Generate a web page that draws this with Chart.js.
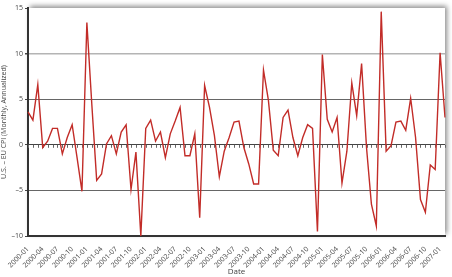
<!DOCTYPE html>
<html>
<head>
<meta charset="utf-8">
<script src="https://cdn.jsdelivr.net/npm/chart.js@4.4.0/dist/chart.umd.min.js"></script>
<style>
  html, body { margin: 0; padding: 0; background: #fff; }
  #wrap { width: 452px; height: 277px; }
</style>
</head>
<body>
<div id="wrap"><canvas id="chart"></canvas></div>
<script>
let months = [
    '2000-01','2000-02','2000-03','2000-04','2000-05','2000-06','2000-07','2000-08','2000-09','2000-10','2000-11','2000-12',
    '2001-01','2001-02','2001-03','2001-04','2001-05','2001-06','2001-07','2001-08','2001-09','2001-10','2001-11','2001-12',
    '2002-01','2002-02','2002-03','2002-04','2002-05','2002-06','2002-07','2002-08','2002-09','2002-10','2002-11','2002-12',
    '2003-01','2003-02','2003-03','2003-04','2003-05','2003-06','2003-07','2003-08','2003-09','2003-10','2003-11','2003-12',
    '2004-01','2004-02','2004-03','2004-04','2004-05','2004-06','2004-07','2004-08','2004-09','2004-10','2004-11','2004-12',
    '2005-01','2005-02','2005-03','2005-04','2005-05','2005-06','2005-07','2005-08','2005-09','2005-10','2005-11','2005-12',
    '2006-01','2006-02','2006-03','2006-04','2006-05','2006-06','2006-07','2006-08','2006-09','2006-10','2006-11','2006-12',
    '2007-01','2007-02'
];

// US - EU CPI difference, monthly, annualized
let cpiDiff = [
    3.6, 2.7, 6.6, -0.3, 0.4, 1.8, 1.8, -1.0, 0.8, 2.2, -1.4, -5.1,
    13.4, 4.5, -3.9, -3.2, 0.1, 1.0, -1.0, 1.4, 2.2, -4.9, -0.8, -10.0,
    1.8, 2.7, 0.4, 1.4, -1.4, 1.2, 2.6, 4.1, -1.2, -1.2, 1.2, -8.0,
    6.5, 4.1, 1.0, -3.5, -0.7, 0.8, 2.5, 2.6, -0.3, -2.1, -4.3, -4.3,
    8.2, 4.9, -0.6, -1.2, 3.0, 3.8, 0.8, -1.2, 0.8, 2.2, 1.8, -9.5,
    9.9, 2.8, 1.4, 3.0, -4.2, -0.7, 6.8, 3.2, 8.9, -0.3, -6.5, -8.9,
    14.6, -0.7, -0.1, 2.5, 2.6, 1.6, 5.1, 0.8, -6.0, -7.4, -2.2, -2.7,
    10.1, 3.0
];

let yTicks = [-10, -5, 0, 5, 10, 15];
let yTickText = ['\u201310', '\u20135', '0', '5', '10', '15'];

const fontFam = "'Open Sans', 'Liberation Sans', sans-serif";

// drop shadow behind the plot area
const frame = {
    id: 'frame',
    beforeDraw(chart) {
        const a = chart.chartArea, c = chart.ctx;
        c.save();
        c.shadowColor = 'rgba(0,0,0,0.45)';
        c.shadowBlur = 5;
        c.shadowOffsetX = 2;
        c.shadowOffsetY = -2;
        c.fillStyle = '#fff';
        c.fillRect(a.left, a.top, a.right - a.left, a.bottom - a.top);
        c.restore();
    }
};

// small month ticks hanging from the zero line
const zeroTicks = {
    id: 'zeroTicks',
    beforeDatasetsDraw(chart) {
        const x = chart.scales.x, y = chart.scales.y, c = chart.ctx;
        const y0 = y.getPixelForValue(0);
        c.save();
        c.strokeStyle = '#666';
        c.lineWidth = 1;
        c.beginPath();
        months.forEach((m, i) => {
            const px = Math.round(x.getPixelForValue(i)) + 0.5;
            c.moveTo(px, y0);
            c.lineTo(px, y0 + 3);
        });
        c.stroke();
        c.restore();
    }
};

new Chart(document.getElementById('chart'), {
    type: 'line',
    data: {
        labels: months,
        datasets: [{
            data: cpiDiff,
            borderColor: '#c22c28',
            borderWidth: 1.4,
            pointRadius: 0,
            tension: 0,
            fill: false
        }]
    },
    plugins: [frame, zeroTicks],
    options: {
        responsive: true,
        maintainAspectRatio: false,
        animation: false,
        layout: { padding: { top: 8, right: 7, left: 0, bottom: 0 } },
        plugins: { legend: { display: false }, tooltip: { enabled: false } },
        scales: {
            x: {
                type: 'category',
                offset: false,
                afterFit: s => { s.height = 41; },
                grid: { display: false },
                border: { display: true, color: '#333', width: 2 },
                ticks: {
                    autoSkip: false,
                    minRotation: 45,
                    maxRotation: 45,
                    padding: 1,
                    color: '#444',
                    font: { family: fontFam, size: 7 },
                    callback: function (v, i) {
                        return i % 3 === 0 ? this.getLabelForValue(v) : '';
                    }
                },
                title: {
                    display: true,
                    text: 'Date',
                    color: '#444',
                    padding: { top: 0, bottom: 0 },
                    font: { family: fontFam, size: 8 }
                }
            },
            y: {
                min: -10,
                max: 15,
                afterFit: s => { s.width = 28; },
                afterBuildTicks: s => { s.ticks = yTicks.map(v => ({ value: v })); },
                grid: {
                    color: ctx => {
                        const v = ctx.tick.value;
                        if (v === 0) return '#444';
                        if (v === 10) return '#b4b4b4';
                        if (v === 15 || v === -10) return 'rgba(0,0,0,0)';
                        return '#666';
                    },
                    lineWidth: ctx => (ctx.tick.value === 10 ? 1.6 : 1),
                    tickColor: '#444',
                    tickLength: 3
                },
                border: { display: true, color: '#333', width: 2 },
                ticks: {
                    padding: 2,
                    color: '#444',
                    font: { family: fontFam, size: 7 },
                    callback: v => yTickText[yTicks.indexOf(v)]
                },
                title: {
                    display: true,
                    text: 'U.S. \u2013 EU CPI (Monthly, Annualized)',
                    color: '#444',
                    padding: { top: 0, bottom: 1 },
                    font: { family: fontFam, size: 7 }
                }
            }
        }
    }
});
</script>
</body>
</html>
